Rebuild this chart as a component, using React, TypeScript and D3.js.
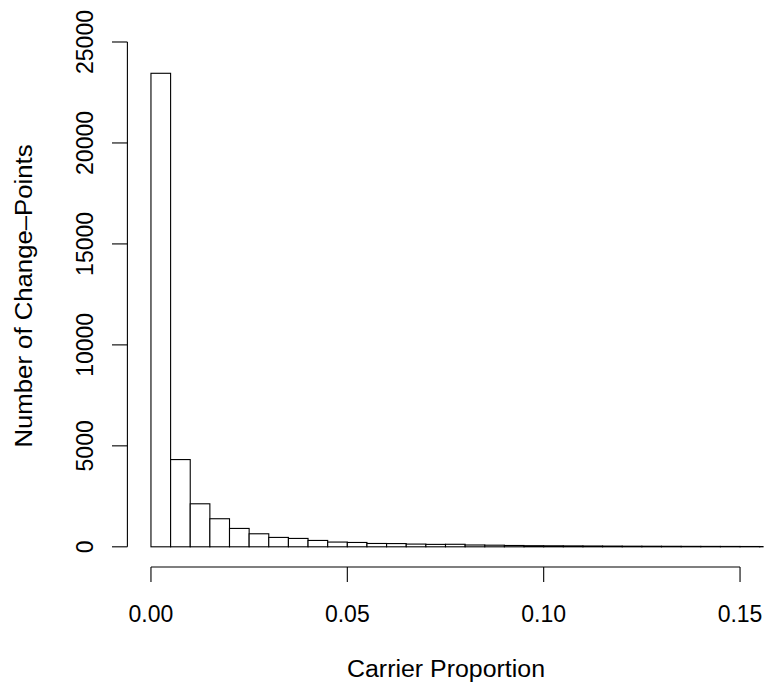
import React from 'react';
import * as d3 from 'd3';

// histogram of carrier proportion, bins of width 0.005
const binWidth = 0.005;
const counts = [
  23450, 4320, 2130, 1390, 910, 645, 465, 415, 315, 235, 215, 165, 160, 135, 120, 125,
  90, 80, 65, 55, 50, 45, 40, 35, 30, 28, 25, 22, 20, 18, 15, 12,
];
const xTicks = [0, 0.05, 0.1, 0.15];
const xTickLabels = ['0.00', '0.05', '0.10', '0.15'];
const yTicks = [0, 5000, 10000, 15000, 20000, 25000];
const xTitle = 'Carrier Proportion';
const yTitle = 'Number of Change\u2013Points';

const width = 766;
const height = 690;
const font = '"Liberation Sans", Arial, Helvetica, sans-serif';

export default function App() {
  // R style: usr range is the limits padded by 4%
  const x = d3.scaleLinear().domain([-0.006, 0.156]).range([127.4, 763.6]);
  const y = d3.scaleLinear().domain([-1000, 26000]).range([567, 21.8]);

  const bins = counts.map((c, i) => ({ x0: i * binWidth, x1: (i + 1) * binWidth, c }));

  return (
    <svg
      width={width}
      height={height}
      style={{ position: 'absolute', left: 0, top: 0, background: '#fff' }}
      fontFamily={font}
    >
      <defs>
        <clipPath id="plotclip">
          <rect x={127.4} y={21.8} width={763.6 - 127.4} height={567 - 21.8} />
        </clipPath>
      </defs>

      <g clipPath="url(#plotclip)">
        {bins.map((b, i) => (
          <rect
            key={i}
            x={x(b.x0)}
            y={y(b.c)}
            width={x(b.x1) - x(b.x0)}
            height={y(0) - y(b.c)}
            fill="#fff"
            stroke="#000"
            strokeWidth={1.1}
          />
        ))}
      </g>

      {/* x axis */}
      <g stroke="#000" strokeWidth={1.1}>
        <line x1={x(xTicks[0])} x2={x(xTicks[xTicks.length - 1])} y1={567} y2={567} />
        {xTicks.map(t => (
          <line key={t} x1={x(t)} x2={x(t)} y1={567} y2={582} />
        ))}
      </g>
      {xTicks.map((t, i) => (
        <text key={t} x={x(t)} y={622} textAnchor="middle" fontSize={23}>
          {xTickLabels[i]}
        </text>
      ))}
      <text x={446} y={677} textAnchor="middle" fontSize={23} textLength={198} lengthAdjust="spacingAndGlyphs">
        {xTitle}
      </text>

      {/* y axis */}
      <g stroke="#000" strokeWidth={1.1}>
        <line x1={127.4} x2={127.4} y1={y(yTicks[0])} y2={y(yTicks[yTicks.length - 1])} />
        {yTicks.map(t => (
          <line key={t} x1={112} x2={127.4} y1={y(t)} y2={y(t)} />
        ))}
      </g>
      {yTicks.map(t => (
        <text key={t} transform={`translate(93,${y(t)}) rotate(-90)`} textAnchor="middle" fontSize={23}>
          {t}
        </text>
      ))}
      <text
        transform={`translate(32,296) rotate(-90)`}
        textAnchor="middle"
        fontSize={23}
        textLength={303}
        lengthAdjust="spacingAndGlyphs"
      >
        {yTitle}
      </text>
    </svg>
  );
}
